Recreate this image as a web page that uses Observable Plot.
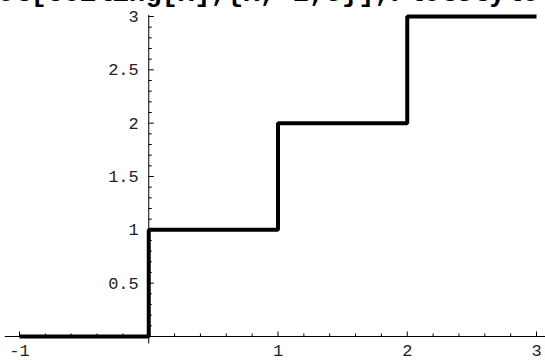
<!DOCTYPE html>
<html>
<head>
<meta charset="utf-8">
<script src="https://cdn.jsdelivr.net/npm/d3@7"></script>
<script src="https://cdn.jsdelivr.net/npm/@observablehq/plot@0.6"></script>
<style>
  html, body { margin: 0; padding: 0; background: #fff; overflow: hidden; }
  #wrap { position: relative; width: 545px; height: 360px; overflow: hidden; }
  #title { position: absolute; left: -35px; top: -20px; white-space: nowrap;
           font: bold 27.3px "Liberation Mono", "DejaVu Sans Mono", monospace; line-height: 27px; color: #000; }
  #chart { position: absolute; left: 0; top: 0; }
</style>
</head>
<body>
<div id="wrap">
  <div id="chart"></div>
  <div id="title">Plot[Ceiling[x],{x,-1,3}],PlotStyle-&gt;Thickness[0.01]]</div>
</div>
<script>
// Step data (value holds until the next x)
const stepX = [-1, 0, 1, 2, 3];
const stepY = [0, 1, 2, 3, 3];

// Tick positions and labels
const xMajor = [-1, 1, 2, 3];
const xMinor = [-0.8, -0.6, -0.4, -0.2, 0.2, 0.4, 0.6, 0.8, 1.2, 1.4, 1.6, 1.8, 2.2, 2.4, 2.6, 2.8];
const xLabels = ["-1", "1", "2", "3"];
const yMajor = [0.5, 1, 1.5, 2, 2.5, 3];
const yMinor = [0.1, 0.2, 0.3, 0.4, 0.6, 0.7, 0.8, 0.9, 1.1, 1.2, 1.3, 1.4, 1.6, 1.7, 1.8, 1.9, 2.1, 2.2, 2.3, 2.4, 2.6, 2.7, 2.8, 2.9];
const yLabels = ["0.5", "1", "1.5", "2", "2.5", "3"];

const steps = stepX.map((x, i) => ({x, y: stepY[i]}));

const tickUp = {draw(ctx, size) { const l = Math.sqrt(size / Math.PI); ctx.moveTo(0, 0); ctx.lineTo(0, -l); }};
const tickRight = {draw(ctx, size) { const l = Math.sqrt(size / Math.PI); ctx.moveTo(0, 0); ctx.lineTo(l, 0); }};

const labelFont = {fontFamily: "Liberation Mono, DejaVu Sans Mono, monospace", fontSize: 17, fill: "#222"};

const chart = Plot.plot({
  width: 545,
  height: 360,
  marginLeft: 19,
  marginRight: 9,
  marginTop: 16,
  marginBottom: 24,
  x: {domain: [-1, 3], axis: null},
  y: {domain: [0, 3], axis: null},
  style: {background: "white", overflow: "visible"},
  marks: [
    // axes through the origin
    Plot.ruleY([0], {x1: -1.11, x2: 3.1, stroke: "black", strokeWidth: 1}),
    Plot.ruleX([0], {y1: -0.07, y2: 3.01, stroke: "black", strokeWidth: 1}),
    // ticks
    Plot.dot(xMajor, {x: d => d, y: 0, r: 5, symbol: tickUp, fill: "none", stroke: "black", strokeWidth: 1}),
    Plot.dot(xMinor, {x: d => d, y: 0, r: 3, symbol: tickUp, fill: "none", stroke: "black", strokeWidth: 1}),
    Plot.dot(yMajor, {x: 0, y: d => d, r: 5, symbol: tickRight, fill: "none", stroke: "black", strokeWidth: 1}),
    Plot.dot(yMinor, {x: 0, y: d => d, r: 3, symbol: tickRight, fill: "none", stroke: "black", strokeWidth: 1}),
    // tick labels
    Plot.text(xMajor, {x: d => d, y: 0, text: (d, i) => xLabels[i], dy: 14, textAnchor: "middle", ...labelFont}),
    Plot.text(yMajor, {x: 0, y: d => d, text: (d, i) => yLabels[i], dx: -10, textAnchor: "end", ...labelFont}),
    // the step function
    Plot.line(steps, {x: "x", y: "y", curve: "step-after", stroke: "black", strokeWidth: 4, strokeLinejoin: "miter", strokeLinecap: "butt"})
  ]
});
document.getElementById("chart").appendChild(chart);
</script>
</body>
</html>
